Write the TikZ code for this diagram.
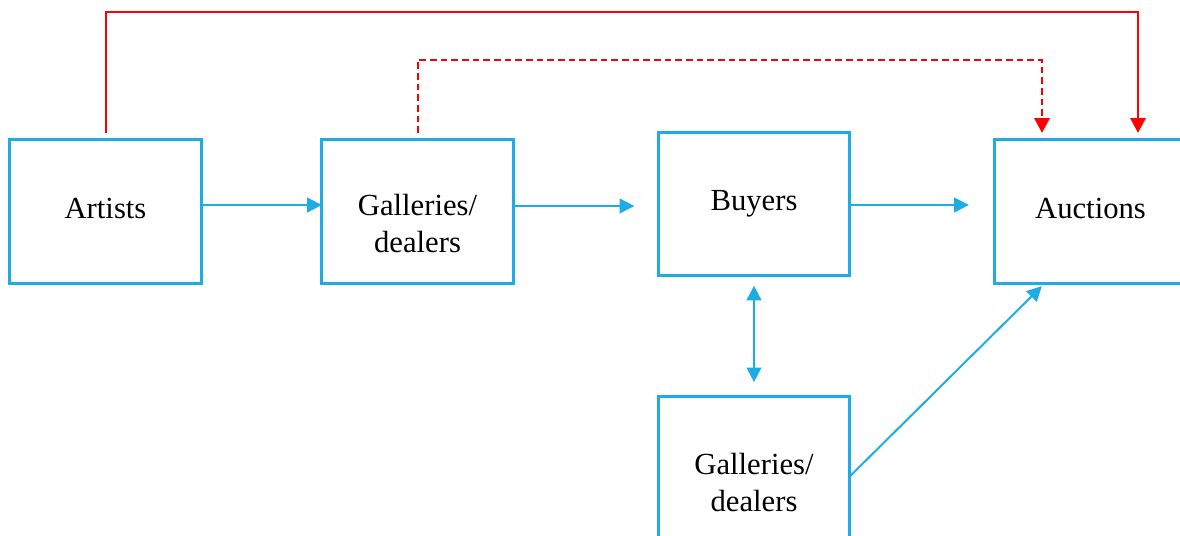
\documentclass[tikz,border=0pt]{standalone}
\usepackage{fontspec}
\setmainfont{Liberation Serif}
\usetikzlibrary{arrows.meta}
\definecolor{boxblue}{RGB}{30,172,228}
\begin{document}
\begin{tikzpicture}[x=0.75pt,y=-0.75pt,
  box/.style={draw=boxblue,line width=2.3pt,minimum width=143.5pt,minimum height=107.5pt,inner sep=0pt,outer sep=0pt},
  boxtext/.style={inner sep=0pt,align=center,font=\fontsize{23}{27.75}\selectfont},
  bluetip/.style={Triangle[length=11pt,width=11pt]},
  flow/.style={draw=boxblue,line width=1.5pt,-{Triangle[length=11pt,width=11pt]}},
  redlink/.style={draw=red,line width=1.5pt,-{Triangle[length=11pt,width=11.5pt]}}]
\useasboundingbox (0,0) rectangle (1180,535);
\clip (0,0) rectangle (1180,535);
\node[box] (art) at (105.5,211.5) {};
\node[box] (gal1) at (417.5,211.5) {};
\node[box] (buy) at (754,204) {};
\node[box] (auc) at (1090.5,211.5) {};
\node[box] (gal2) at (754,468.5) {};
\node[boxtext] (artt) at ([shift={(0,-3)}]art.center) {Artists};
\node[boxtext] (gal1t) at ([shift={(0,12.5)}]gal1.center) {Galleries/\\dealers};
\node[boxtext] (buyt) at (buy.center) {Buyers};
\node[boxtext] (auct) at ([shift={(0,-3)}]auc.center) {Auctions};
\node[boxtext] (gal2t) at ([shift={(0,14)}]gal2.center) {Galleries/\\dealers};
\draw[flow] ([shift={(0,-6.5)}]art.east) -- ([shift={(0,-6.5)}]gal1.west);
\draw[flow,shorten >=18pt] ([shift={(0,-5.5)}]gal1.east) -- ([shift={(0,-5.5)}]gal1.east -| buy.west);
\draw[flow,shorten >=19.5pt] ([shift={(0,1)}]buy.east) -- ([shift={(0,1)}]buy.east -| auc.west);
\draw[flow,{Triangle[length=11pt,width=11pt]}-{Triangle[length=11pt,width=11pt]},shorten <=7.5pt,shorten >=11pt] (buy.south) -- (gal2.north);
\draw[flow] ([shift={(0,8)}]gal2.east) -- ([shift={(47,3)}]auc.south west);
\coordinate (r0) at ([shift={(0,-7)}]art.north);
\coordinate (r1) at ([shift={(47.5,-7)}]auc.north);
\draw[redlink] (r0) -- (r0 |- 0,12) -| (r1);
\coordinate (d0) at ([shift={(0,-7)}]gal1.north);
\coordinate (d1) at ([shift={(-48.5,-7)}]auc.north);
\draw[redlink,dash pattern=on 5pt off 3pt] (d0) -- (d0 |- 0,60) -| (d1);
\end{tikzpicture}
\end{document}
